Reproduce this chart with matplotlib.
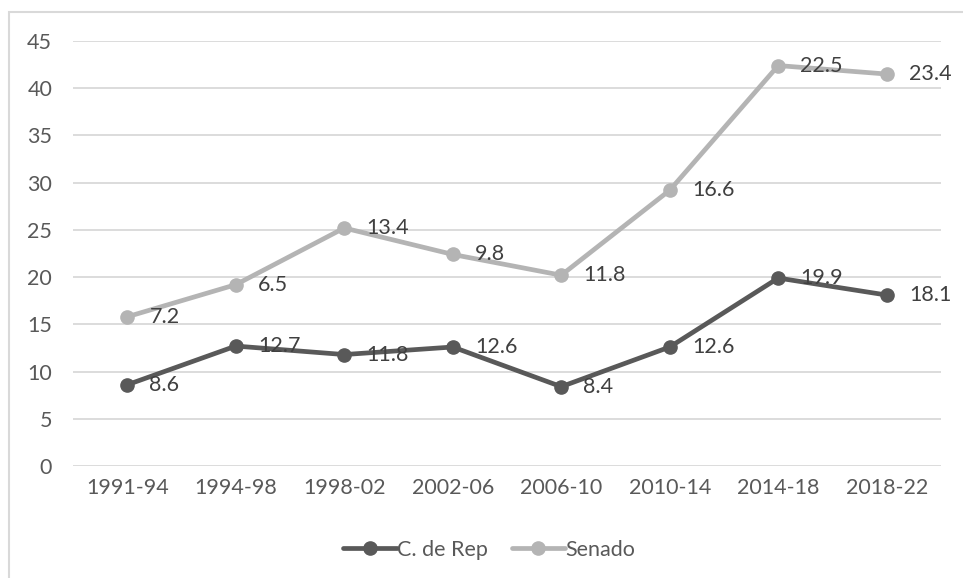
import matplotlib.pyplot as plt
import numpy as np
from matplotlib.patches import Rectangle

periods = ['1991-94', '1994-98', '1998-02', '2002-06', '2006-10', '2010-14', '2014-18', '2018-22']
camara = [8.6, 12.7, 11.8, 12.6, 8.4, 12.6, 19.9, 18.1]
senado = [7.2, 6.5, 13.4, 9.8, 11.8, 16.6, 22.5, 23.4]
y_ticks = [0, 5, 10, 15, 20, 25, 30, 35, 40, 45]

plt.rcParams['font.family'] = ['Lato', 'DejaVu Sans']
FS = 15.5

fig = plt.figure(figsize=(9.63, 5.78), dpi=100)
# chart frame (open at the right and bottom edges)
fig.patches.append(Rectangle((9 / 963, -0.05), 1.1, 1 - 12 / 578 + 0.05,
                             transform=fig.transFigure, fill=False,
                             edgecolor='#d9d9d9', linewidth=1.5))

ax = fig.add_axes([73 / 963, 1 - 466 / 578, (941 - 73) / 963, (466 - 41) / 578])

x = np.arange(len(periods))
# stacked lines: senado drawn on top of camara
stack = np.array(camara) + np.array(senado)

c_dark = '#595959'
c_light = '#b4b4b4'
ax.plot(x, stack, color=c_light, lw=3.4, marker='o', ms=9.5, label='Senado',
        solid_capstyle='round', zorder=3)
ax.plot(x, camara, color=c_dark, lw=3.4, marker='o', ms=9.5, label='C. de Rep',
        solid_capstyle='round', zorder=3)

for xi, top, c, s in zip(x, stack, camara, senado):
    ax.annotate(f'{s:.1f}', (xi, top), xytext=(16, 0), textcoords='offset points',
                ha='left', va='center', fontsize=FS, color='#404040', zorder=4)
    ax.annotate(f'{c:.1f}', (xi, c), xytext=(16, 0), textcoords='offset points',
                ha='left', va='center', fontsize=FS, color='#404040', zorder=4)

ax.set_xlim(-0.5, len(periods) - 0.5)
ax.set_ylim(0, 45)
ax.set_yticks(y_ticks)
ax.set_xticks(x)
ax.set_xticklabels(periods)
ax.tick_params(axis='both', length=0, labelsize=FS, labelcolor='#595959')
ax.tick_params(axis='y', pad=15)
ax.tick_params(axis='x', pad=9)
ax.grid(axis='y', color='#d9d9d9', lw=1.3)
ax.set_axisbelow(True)
for sp in ax.spines.values():
    sp.set_visible(False)

handles, labels = ax.get_legend_handles_labels()
fig.legend(handles[::-1], labels[::-1], loc='center', bbox_to_anchor=(0.508, 1 - 550 / 578),
           ncol=2, frameon=False, fontsize=FS, labelcolor='#595959',
           handlelength=2.5, handletextpad=0.0, columnspacing=1.1)

plt.savefig('out.png', dpi=100)
